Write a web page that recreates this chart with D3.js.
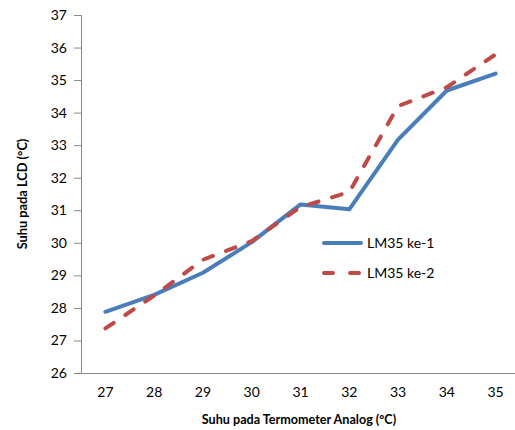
<!DOCTYPE html>
<html>
<head>
<meta charset="utf-8">
<script src="https://cdn.jsdelivr.net/npm/d3@7"></script>
<style>
  body { margin: 0; background: #fff; }
  text { font-family: Lato, "Open Sans", sans-serif; fill: #000; }
</style>
</head>
<body>
<div id="chart"></div>
<script>
// Data
const categories = [27, 28, 29, 30, 31, 32, 33, 34, 35];
const lm35ke1 = [27.88, 28.4, 29.08, 30.02, 31.18, 31.03, 33.17, 34.68, 35.2];
const lm35ke2 = [27.37, 28.38, 29.48, 30.05, 31.1, 31.56, 34.2, 34.78, 35.79];
const yTicks = [26, 27, 28, 29, 30, 31, 32, 33, 34, 35, 36, 37];

const series = [
    {name: "LM35 ke-1", values: lm35ke1, color: "#4a7ebb", dash: null},
    {name: "LM35 ke-2", values: lm35ke2, color: "#be4b48", dash: "10,14"}
];

const width = 515, height = 430;
const plot = {left: 81, right: 520, top: 15, bottom: 373};

const svg = d3.select("#chart")
    .append("svg")
    .attr("width", width)
    .attr("height", height);

// Scales
const x = d3.scaleBand()
    .domain(categories)
    .range([plot.left, plot.right]);

const y = d3.scaleLinear()
    .domain([26, 37])
    .range([plot.bottom, plot.top]);

// Y axis
const yAxis = svg.append("g")
    .attr("transform", `translate(${plot.left},0)`)
    .call(d3.axisLeft(y).tickValues(yTicks).tickSize(7).tickPadding(7));
yAxis.select(".domain").attr("stroke", "#868686");
yAxis.selectAll(".tick line").attr("stroke", "#868686");
yAxis.selectAll(".tick text")
    .style("font-size", "14px")
    .attr("fill", "#000");

// X axis (no tick marks)
const xAxis = svg.append("g")
    .attr("transform", `translate(0,${plot.bottom})`)
    .call(d3.axisBottom(x).tickSize(0).tickPadding(14));
xAxis.select(".domain").attr("stroke", "#868686");
xAxis.selectAll(".tick text")
    .style("font-size", "14px")
    .attr("fill", "#000");

// Lines
const line = d3.line()
    .x((d, i) => x(categories[i]) + x.bandwidth() / 2)
    .y(d => y(d));

series.forEach(s => {
    svg.append("path")
        .datum(s.values)
        .attr("fill", "none")
        .attr("stroke", s.color)
        .attr("stroke-width", 4)
        .attr("stroke-linejoin", "round")
        .attr("stroke-linecap", "round")
        .attr("stroke-dasharray", s.dash)
        .attr("d", line);
});

// Legend
const legend = svg.append("g")
    .attr("transform", "translate(322,243)");

series.forEach((s, i) => {
    const g = legend.append("g").attr("transform", `translate(0,${i * 30})`);
    g.append("line")
        .attr("x1", 2).attr("x2", 39)
        .attr("stroke", s.color)
        .attr("stroke-width", 4)
        .attr("stroke-linecap", "round")
        .attr("stroke-dasharray", s.dash ? "9,17" : null);
    g.append("text")
        .attr("x", 45)
        .attr("y", 5)
        .style("font-size", "14px")
        .text(s.name);
});

// Axis titles
svg.append("text")
    .attr("x", 299)
    .attr("y", 424)
    .attr("text-anchor", "middle")
    .style("font-size", "12.6px")
    .style("font-weight", "bold")
    .text("Suhu pada Termometer Analog (ºC)");

svg.append("text")
    .attr("transform", "translate(27,194) rotate(-90)")
    .attr("text-anchor", "middle")
    .style("font-size", "12.8px")
    .style("font-weight", "bold")
    .text("Suhu pada LCD (°C)");
</script>
</body>
</html>
